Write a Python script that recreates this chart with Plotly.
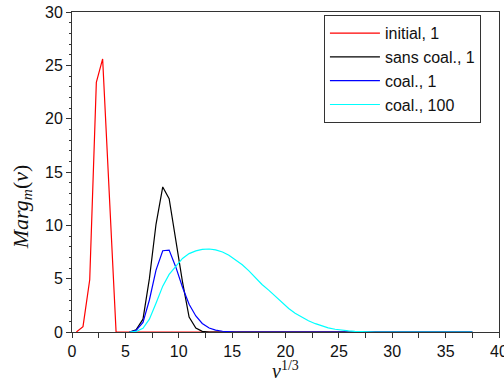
import plotly.graph_objects as go

# ---- data ----
red_x = [0.41, 1.03, 1.66, 2.28, 2.87, 3.5, 4.13, 37.5]
red_y = [0.0, 0.5, 4.9, 23.4, 25.6, 13.0, 0.0, 0.0]

black_x = [5.4, 6.0, 6.65, 7.25, 7.87, 8.5, 9.1, 9.72, 10.35, 10.97, 11.6, 12.2, 12.85, 37.5]
black_y = [0.0, 0.2, 1.2, 5.0, 10.1, 13.6, 12.5, 8.6, 4.7, 1.4, 0.37, 0.06, 0.0, 0.0]

blue_x = [5.4, 6.0, 6.65, 7.25, 7.87, 8.5, 9.1, 9.72, 10.35, 10.97, 11.6, 12.2, 12.85,
          13.45, 14.1, 14.7, 15.3, 37.5]
blue_y = [0.0, 0.15, 0.9, 3.0, 5.8, 7.62, 7.68, 6.1, 4.2, 2.6, 1.5, 0.8, 0.38,
          0.17, 0.07, 0.02, 0.0, 0.0]

cyan_x = [5.4, 6.0, 6.65, 7.25, 7.87, 8.5, 9.1, 9.72, 10.35, 10.97, 11.6, 12.2, 12.85,
          13.45, 14.1, 14.7, 15.3, 15.95, 16.55, 17.2, 17.8, 18.45, 19.05, 19.7,
          20.3, 20.9, 21.55, 22.15, 22.8, 23.4, 24.0, 24.65, 25.25, 25.9, 26.5,
          27.1, 27.75, 28.4, 37.5]
cyan_y = [0.0, 0.05, 0.35, 1.2, 2.7, 4.3, 5.4, 6.2, 6.9, 7.35, 7.6, 7.75, 7.78,
          7.7, 7.5, 7.2, 6.8, 6.3, 5.75, 5.05, 4.45, 3.9, 3.35, 2.75,
          2.2, 1.75, 1.38, 1.05, 0.78, 0.56, 0.39, 0.26, 0.17, 0.1, 0.06,
          0.03, 0.01, 0.0, 0.0]

names = ["initial, 1", "sans coal., 1", "coal., 1", "coal., 100"]
colors = ["#ff0000", "#000000", "#0000ff", "#00ffff"]
xs = [red_x, black_x, blue_x, cyan_x]
ys = [red_y, black_y, blue_y, cyan_y]

x_ticks = [0, 5, 10, 15, 20, 25, 30, 35, 40]
y_ticks = [0, 5, 10, 15, 20, 25, 30]

fig = go.Figure()
for n, c, x, y in zip(names, colors, xs, ys):
    fig.add_trace(go.Scatter(x=x, y=y, mode="lines", name=n,
                             line=dict(color=c, width=1.2)))

axis_common = dict(
    showgrid=False, zeroline=False, showline=True, linecolor="#333333",
    linewidth=1, mirror=True, ticks="outside", tickcolor="#333333",
    ticklen=5, tickwidth=1, layer="above traces", automargin=False,
    ticklabeloverflow="allow",
    tickfont=dict(family="Liberation Sans, Arial, sans-serif", size=16, color="#111111"),
)

fig.update_xaxes(range=[0, 40], tickvals=x_ticks, ticktext=[str(v) for v in x_ticks],
                 minor=dict(dtick=2.5, ticks="outside", ticklen=5, tickcolor="#333333"),
                 **axis_common)
fig.update_yaxes(range=[0, 30], tickvals=y_ticks, ticktext=[str(v) for v in y_ticks],
                 minor=dict(dtick=1, ticks="outside", ticklen=2, tickcolor="#333333"),
                 **axis_common)

fig.add_annotation(text="<i>v</i><sup>1/3</sup>", xref="paper", yref="paper",
                   x=0.5, y=-0.12, xanchor="center", yanchor="middle", showarrow=False,
                   font=dict(family="Liberation Serif, DejaVu Serif, serif", size=20, color="#111111"))
fig.add_annotation(text="<i>Marg</i><sub><i>m</i></sub>(<i>v</i>)", xref="paper", yref="paper",
                   x=-0.117, y=0.39, xanchor="center", yanchor="middle", showarrow=False,
                   textangle=-90,
                   font=dict(family="Liberation Serif, DejaVu Serif, serif", size=22, color="#111111"))

fig.update_layout(
    width=504, height=383,
    margin=dict(l=72, r=5, t=12, b=51),
    plot_bgcolor="white", paper_bgcolor="white",
    showlegend=True,
    legend=dict(x=0.59, y=0.99, xanchor="left", yanchor="top",
                bgcolor="white", bordercolor="#333333", borderwidth=1,
                font=dict(family="Liberation Sans, Arial, sans-serif", size=16, color="#111111"),
                tracegroupgap=0, itemwidth=50),
)

fig.write_html("out.html", config={"displayModeBar": False},
               post_script="document.body.style.margin='0';document.body.style.overflow='hidden';")
